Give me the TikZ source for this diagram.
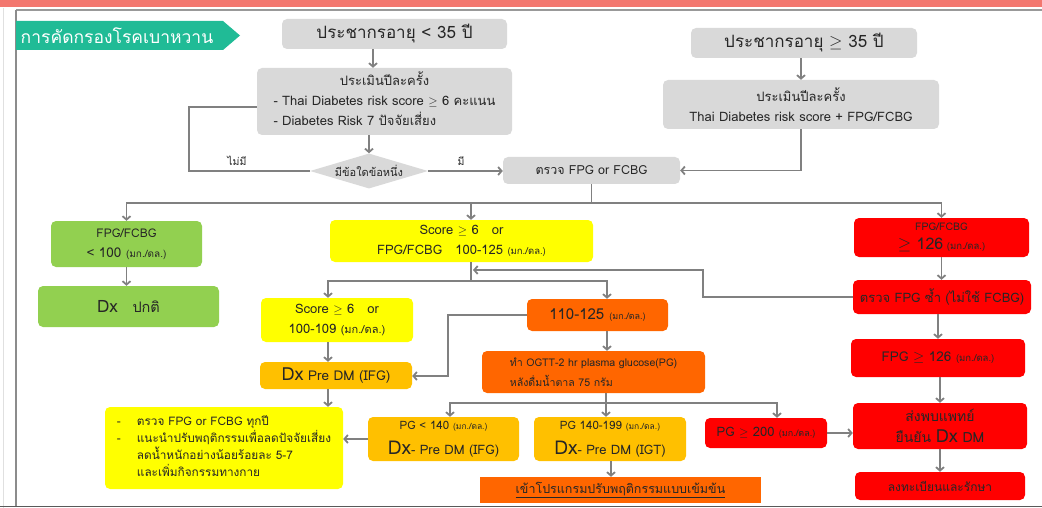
\documentclass[tikz,border=0pt]{standalone}
\usepackage{fontspec}
\setmainfont[Script=Thai]{Loma}
\usetikzlibrary{arrows.meta,shapes.geometric}
\definecolor{boxgray}{HTML}{D9D9D9}
\definecolor{lngray}{HTML}{808080}
\definecolor{gr}{HTML}{92D050}
\definecolor{yel}{HTML}{FFFF00}
\definecolor{gold}{HTML}{FFC000}
\definecolor{org}{HTML}{FF6600}
\definecolor{rd}{HTML}{FF0000}
\definecolor{teal}{HTML}{20BB96}
\definecolor{topbar}{HTML}{F3776F}
\definecolor{txt}{HTML}{262626}
\newcommand{\fs}[1]{\fontsize{#1}{#1}\selectfont}
\newcommand{\unt}[2]{{\fontsize{#1}{#1}\selectfont #2}}
\newcommand{\bigDx}[1]{{\fontsize{#1}{#1}\selectfont Dx}}
\tikzset{
  box/.style={rounded corners=5pt, inner sep=1pt, align=center, text=txt},
  gbox/.style={box, fill=boxgray},
  grbox/.style={box, fill=gr},
  ybox/.style={box, fill=yel},
  gdbox/.style={box, fill=gold},
  obox/.style={box, fill=org},
  rbox/.style={box, fill=rd},
  ln/.style={draw=lngray, line width=1.8pt},
  arr/.style={ln, -{Straight Barb[length=3.5pt,width=8pt]}},
  lbl/.style={text=txt, inner sep=0pt, font=\fs{10.5}},
}
\begin{document}
\begin{tikzpicture}[x=1pt,y=-1pt]
\useasboundingbox (0,0) rectangle (1042,508);
% frame
\fill[topbar] (0,0) rectangle (1042,7);
\draw[black!40, line width=1.5pt] (16,10) -- (1042,10);
\draw[black!12, line width=1pt] (3,8) -- (3,508);
\draw[black!45, line width=1.5pt] (16,10) -- (16,506);
\draw[black!65, line width=1.5pt] (0,506.5) -- (1042,506.5);
% title banner
\fill[teal] (16,21) -- (223,21) -- (240,35.5) -- (223,50) -- (16,50) -- cycle;
\node[text=white, inner sep=0pt, font=\fs{17.5}] (title) at (117,35.5) {การคัดกรองโรคเบาหวาน};

% column coordinates
\coordinate (xA) at (373,0);
\coordinate (cY) at (471,0);
\coordinate (cL) at (328,0);
\coordinate (cO) at (607,0);
\coordinate (cP1) at (450,0);
\coordinate (cP2) at (606,0);
\coordinate (cP3) at (777,0);
\coordinate (cP2b) at (611,0);
\coordinate (bus1) at (0,203);
\coordinate (bus2) at (0,281);
\coordinate (bus3) at (0,403);
\coordinate (loopc) at (189,107);
\coordinate (fb) at (703,270);
\coordinate (fbend) at (473,270);
\coordinate (kk) at (448,376);

% nodes
\node[gbox, minimum width=225, minimum height=30, font=\fs{17}] (a1) at (394.5,34) {ประชากรอายุ < 35 ปี};
\node[gbox, minimum width=255, minimum height=67, font=\fs{13}] (a2) at (384.5,101.5)
  {\def\arraystretch{1.55}\begin{tabular}{@{}l@{}}\multicolumn{1}{@{}c@{}}{ประเมินปีละครั้ง}\\- Thai Diabetes risk score $\geq$ 6 คะแนน\\- Diabetes Risk 7 ปัจจัยเสี่ยง\end{tabular}};
\node[diamond, fill=boxgray, minimum width=118pt, minimum height=35pt, inner sep=0pt, aspect=3.4, text=txt, font=\fs{11}] (d) at (369,171) {มีข้อใดข้อหนึ่ง};
\node[lbl] (lno) at (237,161) {ไม่มี};
\node[lbl] (lyes) at (461,161) {มี};
\node[gbox, minimum width=177, minimum height=27, font=\fs{12.5}] (c) at (591.5,170.5) {ตรวจ FPG or FCBG};
\node[gbox, minimum width=226, minimum height=30, font=\fs{17}] (b1) at (804,43) {ประชากรอายุ $\geq$ 35 ปี};
\node[gbox, minimum width=276, minimum height=49, font=\fs{13}] (b2) at (801,104.5) {ประเมินปีละครั้ง\\[7pt]Thai Diabetes risk score + FPG/FCBG};

\node[grbox, minimum width=151, minimum height=46, font=\fs{12}] (g1) at (126.5,244) {FPG/FCBG\\[8pt]{\fs{13.5}< 100 \unt{10}{(มก./ดล.)}}};
\node[grbox, minimum width=181, minimum height=41, font=\fs{14.5}] (g2) at (128.5,306.5) {\bigDx{17}\ \ \ ปกติ};
\node[ybox, minimum width=263, minimum height=42, font=\fs{13}] (y1) at (461.5,241) {Score $\geq$ 6\ \ \ or\\[7pt]FPG/FCBG\ \ \ 100-125 \unt{9.5}{(มก./ดล.)}};
\node[rbox, minimum width=175, minimum height=39, font=\fs{10.5}] (r1) at (941.5,237.5) {FPG/FCBG\\[7pt]{\fs{16}$\geq$ 126} \unt{9.5}{(มก./ดล.)}};
\node[rbox, minimum width=178, minimum height=34, font=\fs{13}] (r2) at (942,297) {ตรวจ FPG ซ้ำ (ไม่ใช้ FCBG)};
\node[rbox, minimum width=174, minimum height=38, font=\fs{13.5}] (r3) at (938,358) {FPG $\geq$ 126 \unt{9.5}{(มก./ดล.)}};
\node[rbox, minimum width=174, minimum height=46, font=\fs{14}] (r4) at (940,426) {ส่งพบแพทย์\\[7pt]ยืนยัน \bigDx{18}\ DM};
\node[rbox, minimum width=170, minimum height=28, font=\fs{12}] (r5) at (940,486) {ลงทะเบียนและรักษา};

\node[ybox, minimum width=152, minimum height=44, font=\fs{13}] (y2) at (337,320) {Score $\geq$ 6\ \ \ or\\[7pt]100-109 \unt{11}{(มก./ดล.)}};
\node[gdbox, minimum width=152, minimum height=27, font=\fs{13.5}] (o1) at (336,375.5) {\bigDx{18}\ Pre DM (IFG)};
\node[obox, minimum width=141, minimum height=32, font=\fs{15}] (o2) at (597.5,315) {110-125 \unt{9}{(มก./ดล.)}};
\node[obox, minimum width=223, minimum height=42, font=\fs{10.6}, align=left] (o3) at (593.5,372) {ทำ OGTT-2 hr plasma glucose(PG)\\[5pt]หลังดื่มน้ำตาล 75 กรัม};
\node[ybox, minimum width=238, minimum height=82, font=\fs{11.8}] (y3) at (224,448)
  {\def\arraystretch{1.35}\begin{tabular}{@{}l@{\hspace{16pt}}l@{}}-&ตรวจ FPG or FCBG ทุกปี\\-&แนะนำปรับพฤติกรรมเพื่อลดปัจจัยเสี่ยง\\&ลดน้ำหนักอย่างน้อยร้อยละ 5-7\\&และเพิ่มกิจกรรมทางกาย\end{tabular}};
\node[gdbox, minimum width=151, minimum height=44, font=\fs{11.5}] (p1) at (443.5,439) {PG < 140 \unt{8.5}{(มก./ดล.)}\\[9pt]{\fs{13}\bigDx{19}- Pre DM (IFG)}};
\node[gdbox, minimum width=152, minimum height=44, font=\fs{11.5}] (p2) at (610,439) {PG 140-199 \unt{8.5}{(มก./ดล.)}\\[9pt]{\fs{13}\bigDx{19}- Pre DM (IGT)}};
\node[rbox, minimum width=122, minimum height=30, font=\fs{13}] (p3) at (766,433) {PG $\geq$ 200 \unt{9}{(มก./ดล.)}};
\node[obox, rounded corners=0pt, minimum width=281, minimum height=26, font=\fs{12.5}] (o4) at (620.5,490) {\underline{เข้าโปรแกรมปรับพฤติกรรมแบบเข้มข้น}};

% connectors
\draw[arr] (a1.south -| xA) -- (a2.north -| xA);
\draw[arr] (a2.south -| d.north) -- (d.north);
\draw[arr] (d.east) -- (d.east -| c.west);
\draw[ln] (d.west) -| (loopc) -- (loopc -| a2.west);
\draw[arr] (b1.south -| b2.north) -- (b2.north);
\draw[arr] (b2.south) |- (c.east);

\draw[ln] (c.south) -- (c.south |- bus1);
\draw[arr] (c.south |- bus1) -| (g1.north);
\draw[arr] (c.south |- bus1) -| (r1.north);
\draw[arr] (cY |- bus1) -- (cY |- y1.north);

\draw[arr] (g1.south) -- (g1.south |- g2.north);

\draw[ln] (cY |- y1.south) -- (cY |- bus2);
\draw[arr] (cY |- bus2) -| (cL |- y2.north);
\draw[arr] (cY |- bus2) -| (cO |- o2.north);
\draw[arr] (r2.west) -| (fb) -- (fbend);

\draw[arr] (r1.south) -- (r1.south |- r2.north);
\draw[arr] (r2.south -| r3.north) -- (r3.north);
\draw[arr] (r3.south -| r4.north) -- (r4.north);
\draw[arr] (r4.south) -- (r4.south |- r5.north);

\draw[arr] (cL |- y2.south) -- (cL |- o1.north);
\draw[arr] (o2.west) -| (kk) -- (kk -| o1.east);
\draw[arr] (cO |- o2.south) -- (cO |- o3.north);
\draw[arr] (cL |- o1.south) -- (cL |- y3.north);

\draw[ln] (cP2 |- o3.south) -- (cP2 |- bus3);
\draw[arr] (cP2 |- bus3) -| (cP1 |- p1.north);
\draw[arr] (cP2 |- bus3) -| (cP3 |- p3.north);
\draw[arr] (cP2 |- bus3) -- (cP2 |- p2.north);
\draw[arr] (p1.west) -- (p1.west -| y3.east);
\draw[arr] (cP2b |- p2.south) -- (cP2b |- o4.north);
\draw[arr] (p3.east) -- (p3.east -| r4.west);
\end{tikzpicture}
\end{document}
